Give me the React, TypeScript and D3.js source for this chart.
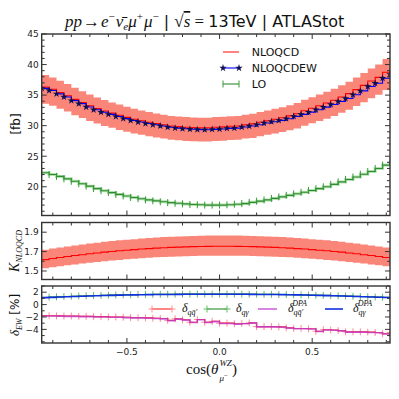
import React from "react";
import * as d3 from "d3";

// ---------- data ----------
const cosTheta = [-0.96,-0.92,-0.88,-0.84,-0.80,-0.76,-0.72,-0.68,-0.64,-0.60,-0.56,-0.52,-0.48,-0.44,-0.40,-0.36,-0.32,-0.28,-0.24,-0.20,-0.16,-0.12,-0.08,-0.04,0.00,0.04,0.08,0.12,0.16,0.20,0.24,0.28,0.32,0.36,0.40,0.44,0.48,0.52,0.56,0.60,0.64,0.68,0.72,0.76,0.80,0.84,0.88,0.92];

const nloqcd = [36.3,35.95,35.4,34.9,34.3,33.8,33.25,32.8,32.4,32.05,31.7,31.35,31.05,30.8,30.55,30.35,30.15,29.95,29.85,29.75,29.7,29.65,29.65,29.75,29.8,29.9,29.95,30.15,30.3,30.55,30.8,31.05,31.3,31.6,31.95,32.45,32.85,33.25,33.7,34.15,34.7,35.25,35.9,36.6,37.3,37.9,38.75,39.4];
const nloqcdUp = [38.3,37.9,37.35,36.8,36.2,35.65,35.1,34.6,34.2,33.8,33.45,33.1,32.75,32.5,32.25,32.0,31.8,31.6,31.5,31.4,31.35,31.3,31.3,31.4,31.45,31.55,31.6,31.8,31.95,32.25,32.5,32.75,33.0,33.35,33.7,34.25,34.65,35.1,35.55,36.05,36.6,37.2,37.9,38.6,39.35,40.0,40.9,41.55];
const nloqcdLow = [33.6,33.25,32.75,32.3,31.7,31.25,30.75,30.35,29.95,29.65,29.3,29.0,28.7,28.5,28.25,28.05,27.9,27.7,27.6,27.5,27.45,27.4,27.4,27.5,27.55,27.65,27.7,27.9,28.0,28.25,28.5,28.7,28.95,29.25,29.55,30.0,30.4,30.75,31.15,31.6,32.1,32.6,33.2,33.85,34.5,35.05,35.85,36.45];
const nloqcdew = [36.1,35.75,35.2,34.7,34.1,33.6,33.05,32.6,32.2,31.85,31.5,31.15,30.85,30.6,30.35,30.15,29.95,29.75,29.6,29.5,29.42,29.36,29.34,29.4,29.45,29.56,29.6,29.78,29.94,30.16,30.43,30.65,30.87,31.14,31.52,31.84,32.22,32.6,33.04,33.47,33.96,34.45,35.05,35.7,36.4,36.95,37.77,38.4];
const lo = [22.3,22.0,21.7,21.3,20.9,20.5,20.1,19.7,19.35,19.05,18.75,18.5,18.25,18.05,17.85,17.7,17.55,17.4,17.3,17.2,17.1,17.05,17.0,17.0,17.0,17.05,17.15,17.25,17.45,17.65,17.85,18.1,18.35,18.6,18.85,19.1,19.4,19.7,20.0,20.4,20.8,21.2,21.6,22.05,22.5,23.0,23.55,24.2];

const kFactor = [1.617,1.628,1.639,1.649,1.659,1.668,1.677,1.686,1.694,1.701,1.708,1.714,1.720,1.726,1.731,1.736,1.740,1.743,1.746,1.749,1.751,1.753,1.754,1.755,1.755,1.755,1.754,1.753,1.751,1.749,1.746,1.743,1.740,1.736,1.731,1.726,1.720,1.714,1.708,1.701,1.694,1.686,1.677,1.668,1.659,1.649,1.639,1.628];
const kUp = [1.719,1.731,1.742,1.753,1.764,1.773,1.783,1.792,1.801,1.808,1.816,1.822,1.828,1.835,1.840,1.845,1.850,1.853,1.856,1.859,1.861,1.863,1.865,1.866,1.866,1.866,1.865,1.863,1.861,1.859,1.856,1.853,1.850,1.845,1.840,1.835,1.828,1.822,1.816,1.808,1.801,1.792,1.783,1.773,1.764,1.753,1.742,1.731];
const kLow = [1.528,1.538,1.549,1.558,1.568,1.576,1.585,1.593,1.601,1.607,1.614,1.620,1.625,1.631,1.636,1.641,1.644,1.647,1.650,1.653,1.655,1.657,1.658,1.658,1.658,1.658,1.658,1.657,1.655,1.653,1.650,1.647,1.644,1.641,1.636,1.631,1.625,1.620,1.614,1.607,1.601,1.593,1.585,1.576,1.568,1.558,1.549,1.538];

const deltaQQ = [-1.8,-1.8,-1.82,-1.85,-1.85,-1.9,-1.9,-1.95,-1.95,-2.0,-2.0,-2.05,-2.1,-2.1,-2.15,-2.2,-2.25,-2.55,-2.3,-2.45,-2.85,-2.4,-2.85,-2.7,-3.0,-3.0,-3.1,-3.05,-2.95,-3.55,-3.55,-3.55,-3.6,-3.75,-3.85,-3.85,-3.9,-4.3,-4.05,-4.1,-4.2,-4.4,-4.4,-4.4,-4.45,-4.5,-4.7,-4.5];
const deltaQG = [1.15,1.2,1.25,1.3,1.34,1.38,1.42,1.46,1.49,1.52,1.55,1.58,1.6,1.62,1.64,1.65,1.66,1.67,1.68,1.69,1.7,1.7,1.7,1.7,1.7,1.7,1.7,1.69,1.68,1.67,1.66,1.65,1.63,1.61,1.59,1.57,1.54,1.51,1.48,1.45,1.42,1.38,1.34,1.3,1.26,1.22,1.18,1.14];
const deltaQQdpa = [-1.85,-1.85,-1.87,-1.9,-1.9,-1.95,-1.95,-2.0,-2.0,-2.05,-2.05,-2.1,-2.15,-2.15,-2.2,-2.25,-2.3,-2.6,-2.35,-2.5,-2.9,-2.45,-2.9,-2.75,-3.05,-3.05,-3.15,-3.1,-3.0,-3.6,-3.6,-3.6,-3.65,-3.8,-3.9,-3.9,-3.95,-4.35,-4.1,-4.15,-4.25,-4.45,-4.45,-4.45,-4.5,-4.55,-4.75,-4.55];
const deltaQGdpa = [1.12,1.17,1.22,1.27,1.31,1.35,1.39,1.43,1.46,1.49,1.52,1.55,1.57,1.59,1.61,1.62,1.63,1.64,1.65,1.66,1.67,1.67,1.67,1.67,1.67,1.67,1.67,1.66,1.65,1.64,1.63,1.62,1.6,1.58,1.56,1.54,1.51,1.48,1.45,1.42,1.39,1.35,1.31,1.27,1.23,1.19,1.15,1.11];

const xMajorTicks = [-0.5, 0, 0.5];
const xMinorTicks = [-0.9,-0.8,-0.7,-0.6,-0.4,-0.3,-0.2,-0.1,0.1,0.2,0.3,0.4,0.6,0.7,0.8,0.9];
const mainMajor = [20, 25, 30, 35, 40, 45];
const kMajor = [1.5, 1.7, 1.9];
const kMinor = [1.6, 1.8];
const ewMajor = [-4, -2, 0, 2];
const ewMinor = [-6, -5, -3, -1, 1, 3];

// ---------- layout ----------
const L = 41.7, R = 390;
const MAIN = { top: 34, bottom: 215.5 };
const KP = { top: 222.5, bottom: 279.5 };
const EW = { top: 286, bottom: 343 };

const SANS = "DejaVu Sans, sans-serif";
const SERIF = "Liberation Serif, DejaVu Serif, serif";
const FRAME = "#333";

const x = d3.scaleLinear().domain([-0.96, 0.92]).range([L, R]);
const yMain = d3.scaleLinear().domain([15.3, 45]).range([MAIN.bottom, MAIN.top]);
const yK = d3.scaleLinear().domain([1.412, 2.0]).range([KP.bottom, KP.top]);
const yEW = d3.scaleLinear().domain([-6.2, 3.0]).range([EW.bottom, EW.top]);

function stepLine(y: d3.ScaleLinear<number, number>, vals: number[]) {
  return d3.line<number>().x((_, i) => x(cosTheta[i])).y((d) => y(d)).curve(d3.curveStepAfter)(vals) || "";
}
function stepArea(y: d3.ScaleLinear<number, number>, up: number[], low: number[]) {
  return d3.area<number>().x((_, i) => x(cosTheta[i])).y0((_, i) => y(low[i])).y1((d) => y(d)).curve(d3.curveStepAfter)(up) || "";
}

const starPath = d3.symbol(d3.symbolStar, 17)() || "";

function Plus({ cx, cy, color, s = 3.5 }: { cx: number; cy: number; color: string; s?: number }) {
  return (
    <g stroke={color} strokeWidth={1}>
      <line x1={cx - s} x2={cx + s} y1={cy} y2={cy} />
      <line x1={cx} x2={cx} y1={cy - s} y2={cy + s} />
    </g>
  );
}

function Frame({ top, bottom, yScale, major, minor, labels, xLabels, fmt }: any) {
  const els: any[] = [];
  xMajorTicks.forEach((v, i) => {
    const px = x(v);
    els.push(<line key={"xb" + i} x1={px} x2={px} y1={bottom} y2={bottom - 5} />);
    els.push(<line key={"xt" + i} x1={px} x2={px} y1={top} y2={top + 5} />);
  });
  xMinorTicks.forEach((v, i) => {
    const px = x(v);
    els.push(<line key={"xbm" + i} x1={px} x2={px} y1={bottom} y2={bottom - 3} />);
    els.push(<line key={"xtm" + i} x1={px} x2={px} y1={top} y2={top + 3} />);
  });
  major.forEach((v: number, i: number) => {
    const py = yScale(v);
    els.push(<line key={"yl" + i} x1={L} x2={L + 5} y1={py} y2={py} />);
    els.push(<line key={"yr" + i} x1={R} x2={R - 5} y1={py} y2={py} />);
  });
  minor.forEach((v: number, i: number) => {
    const py = yScale(v);
    if (py < top - 0.5 || py > bottom + 0.5) return;
    els.push(<line key={"ylm" + i} x1={L} x2={L + 3} y1={py} y2={py} />);
    els.push(<line key={"yrm" + i} x1={R} x2={R - 3} y1={py} y2={py} />);
  });
  return (
    <g>
      <g stroke={FRAME} strokeWidth={1}>{els}</g>
      <rect x={L} y={top} width={R - L} height={bottom - top} fill="none" stroke={FRAME} strokeWidth={1.4} />
      <g fontFamily={SANS} fontSize={9} fill="#222" textAnchor="end">
        {labels.map((v: number, i: number) => (
          <text key={i} x={L - 3} y={yScale(v) + 3.3}>{fmt(v)}</text>
        ))}
      </g>
      {xLabels && (
        <g fontFamily={SANS} fontSize={9} fill="#222" textAnchor="middle">
          {xMajorTicks.map((v, i) => (
            <text key={i} x={x(v)} y={bottom + 11.5}>{v < 0 ? "\u2212" + Math.abs(v).toFixed(1) : v.toFixed(1)}</text>
          ))}
        </g>
      )}
    </g>
  );
}

export default function App() {
  const mainMinor = d3.range(16, 45).filter((v) => v % 5 !== 0);
  const legX1 = 223, legX2 = 239, legT = 251.7;
  return (
    <svg width={399} height={399} style={{ position: "absolute", left: 0, top: 0, background: "#fff" }}>
      <defs>
        <clipPath id="cMain"><rect x={L} y={MAIN.top} width={R - L} height={MAIN.bottom - MAIN.top} /></clipPath>
        <clipPath id="cK"><rect x={L} y={KP.top} width={R - L} height={KP.bottom - KP.top} /></clipPath>
        <clipPath id="cEW"><rect x={L} y={EW.top} width={R - L} height={EW.bottom - EW.top} /></clipPath>
      </defs>
      <rect x={0} y={0} width={399} height={399} fill="#fff" />

      {/* Title */}
      <text x={65} y={27} fontSize={16} fill="#111">
        <tspan fontFamily={SERIF} fontStyle="italic" fontSize={17}>pp</tspan>
        <tspan fontFamily={SERIF} fontSize={17} dx={1}>{"\u2192"}</tspan>
        <tspan fontFamily={SERIF} fontStyle="italic" fontSize={17} dx={1}>e</tspan>
        <tspan fontFamily={SERIF} fontSize={11} dy={-7}>{"\u2212"}</tspan>
        <tspan fontFamily={SERIF} fontStyle="italic" fontSize={17} dy={7} dx={1}>{"\u03BD\u0304"}</tspan>
        <tspan fontFamily={SERIF} fontStyle="italic" fontSize={11} dy={3}>e</tspan>
        <tspan fontFamily={SERIF} fontStyle="italic" fontSize={17} dy={-3}>{"\u03BC"}</tspan>
        <tspan fontFamily={SERIF} fontSize={11} dy={-7}>+</tspan>
        <tspan fontFamily={SERIF} fontStyle="italic" fontSize={17} dy={7} dx={1}>{"\u03BC"}</tspan>
        <tspan fontFamily={SERIF} fontSize={11} dy={-7}>{"\u2212"}</tspan>
        <tspan fontFamily={SANS} dy={7}>{" | "}</tspan>
        <tspan fontFamily={SERIF} fontSize={17}>{"\u221A"}</tspan>
        <tspan fontFamily={SERIF} fontStyle="italic" fontSize={17} textDecoration="overline">s</tspan>
        <tspan fontFamily={SERIF} fontSize={17}>{" = "}</tspan>
        <tspan fontFamily={SANS}>13TeV | ATLAStot</tspan>
      </text>

      {/* Main panel */}
      <g clipPath="url(#cMain)">
        <path d={stepArea(yMain, nloqcdUp, nloqcdLow)} fill="#fa8072" opacity={0.95} />
        <path d={stepLine(yMain, lo)} fill="none" stroke="#7fc97f" strokeWidth={3} opacity={0.6} />
        <path d={stepLine(yMain, lo)} fill="none" stroke="#2e8b2e" strokeWidth={1.1} />
        {lo.map((v, i) => (
          <line key={i} x1={x(cosTheta[i])} x2={x(cosTheta[i])} y1={yMain(v) - 3.5} y2={yMain(v) + 3.5} stroke="#3a9a3a" strokeWidth={1} />
        ))}
        <path d={stepLine(yMain, nloqcd)} fill="none" stroke="#ff0000" strokeWidth={1.1} />
        <path d={stepLine(yMain, nloqcdew)} fill="none" stroke="#0000ff" strokeWidth={1.1} />
        {nloqcdew.map((v, i) => (
          <path key={i} d={starPath} transform={`translate(${x(cosTheta[i])},${yMain(v)})`} fill="#101050" />
        ))}
      </g>
      <Frame top={MAIN.top} bottom={MAIN.bottom} yScale={yMain} major={mainMajor} minor={mainMinor} labels={mainMajor} fmt={(v: number) => String(v)} />

      {/* Main legend */}
      <g>
        <line x1={legX1} x2={legX2} y1={52} y2={52} stroke="#ff3030" strokeWidth={1.2} />
        <line x1={legX1} x2={legX2} y1={68} y2={68} stroke="#0000ff" strokeWidth={1.1} />
        <path d={starPath} transform={`translate(${legX1},68)`} fill="#101050" />
        <path d={starPath} transform={`translate(${legX2},68)`} fill="#101050" />
        <line x1={legX1} x2={legX2} y1={84} y2={84} stroke="#2e8b2e" strokeWidth={1.1} />
        <line x1={legX1} x2={legX1} y1={80.5} y2={87.5} stroke="#3a9a3a" />
        <line x1={legX2} x2={legX2} y1={80.5} y2={87.5} stroke="#3a9a3a" />
        <g fontFamily={SANS} fontSize={11} fill="#111">
          <text x={legT} y={56}>NLOQCD</text>
          <text x={legT} y={72}>NLOQCDEW</text>
          <text x={legT} y={88}>LO</text>
        </g>
      </g>

      {/* K panel */}
      <g clipPath="url(#cK)">
        <path d={stepArea(yK, kUp, kLow)} fill="#fa8072" opacity={0.95} />
        <path d={stepLine(yK, kFactor)} fill="none" stroke="#ff0000" strokeWidth={1.1} />
      </g>
      <Frame top={KP.top} bottom={KP.bottom} yScale={yK} major={kMajor} minor={kMinor} labels={kMajor} fmt={(v: number) => v.toFixed(1)} />

      {/* EW panel */}
      <g clipPath="url(#cEW)">
        {deltaQQ.map((v, i) => (
          <Plus key={"a" + i} cx={x(cosTheta[i])} cy={yEW(v)} color="#ff9090" />
        ))}
        {deltaQG.map((v, i) => (
          <Plus key={"b" + i} cx={x(cosTheta[i])} cy={yEW(v)} color="#60c060" />
        ))}
        <path d={stepLine(yEW, deltaQQ)} fill="none" stroke="#ff2020" strokeWidth={1.1} />
        <path d={stepLine(yEW, deltaQG)} fill="none" stroke="#2e8b2e" strokeWidth={1.1} />
        <path d={stepLine(yEW, deltaQQdpa)} fill="none" stroke="#c040d0" strokeWidth={1.6} opacity={0.8} />
        <path d={stepLine(yEW, deltaQGdpa)} fill="none" stroke="#1030e0" strokeWidth={1.6} />
      </g>
      <Frame top={EW.top} bottom={EW.bottom} yScale={yEW} major={ewMajor} minor={ewMinor} labels={ewMajor} xLabels fmt={(v: number) => (v < 0 ? "\u2212" + Math.abs(v) : String(v))} />

      {/* EW legend */}
      <g>
        <line x1={152} x2={172} y1={309} y2={309} stroke="#ff2020" strokeWidth={1.1} />
        <Plus cx={152} cy={309} color="#ff9090" />
        <Plus cx={172} cy={309} color="#ff9090" />
        <line x1={207} x2={227} y1={309} y2={309} stroke="#2e8b2e" strokeWidth={1.1} />
        <Plus cx={207} cy={309} color="#60c060" />
        <Plus cx={227} cy={309} color="#60c060" />
        <line x1={258} x2={277} y1={309} y2={309} stroke="#c040d0" strokeWidth={1.6} opacity={0.8} />
        <line x1={325} x2={343} y1={309} y2={309} stroke="#1030e0" strokeWidth={1.6} />
        <g fontFamily={SERIF} fontStyle="italic" fill="#111">
          <text x={182} y={312} fontSize={12}>{"\u03B4"}<tspan fontSize={8} dy={3}>{"qq\u0304\u2032"}</tspan></text>
          <text x={236} y={312} fontSize={12}>{"\u03B4"}<tspan fontSize={8} dy={3}>{"q\u03B3"}</tspan></text>
          <text x={288} y={312} fontSize={12}>{"\u03B4"}
            <tspan fontSize={8} dy={3}>{"qq\u0304\u2032"}</tspan>
            <tspan fontSize={8} dx={-11} dy={-9}>DPA</tspan>
          </text>
          <text x={353} y={312} fontSize={12}>{"\u03B4"}
            <tspan fontSize={8} dy={3}>{"q\u03B3"}</tspan>
            <tspan fontSize={8} dx={-8} dy={-9}>DPA</tspan>
          </text>
        </g>
      </g>

      {/* Y labels */}
      <text transform="translate(20,124) rotate(-90)" textAnchor="middle" fontFamily={SANS} fontSize={12} fill="#111">[fb]</text>
      <text transform="translate(19,251) rotate(-90)" textAnchor="middle" fontFamily={SERIF} fontStyle="italic" fontSize={14} fill="#111">
        K<tspan fontSize={8} dy={3}>NLOQCD</tspan>
      </text>
      <text transform="translate(19,315) rotate(-90)" textAnchor="middle" fontSize={12} fill="#111">
        <tspan fontFamily={SERIF} fontStyle="italic" fontSize={13}>{"\u03B4"}</tspan>
        <tspan fontFamily={SERIF} fontStyle="italic" fontSize={8} dy={3}>EW</tspan>
        <tspan fontFamily={SANS} dy={-3}>{" [%]"}</tspan>
      </text>

      {/* X label (single text element) */}
      <text x={186} y={374} fontFamily={SERIF} fontSize={15} fill="#111">
        cos(<tspan fontStyle="italic">{"\u03B8"}</tspan>
        <tspan fontSize={9} fontStyle="italic" dx={1} dy={-8}>WZ</tspan>
        <tspan fontSize={9} fontStyle="italic" dx={-12.5} dy={15}>{"\u03BC"}</tspan>
        <tspan fontSize={7} dy={-3}>{"\u2212"}</tspan>
        <tspan dx={4} dy={-4}>)</tspan>
      </text>
    </svg>
  );
}
